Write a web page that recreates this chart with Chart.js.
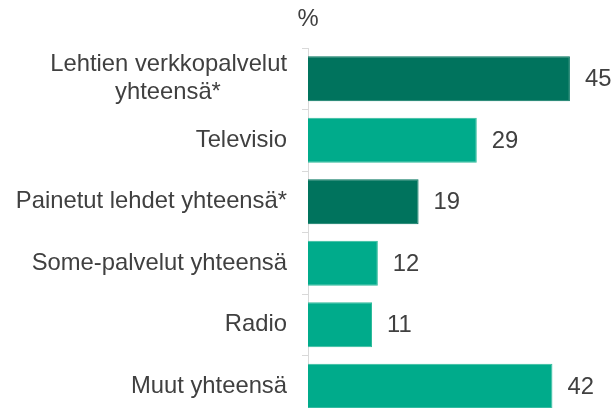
<!DOCTYPE html>
<html>
<head>
<meta charset="utf-8">
<script src="https://cdn.jsdelivr.net/npm/chart.js@4/dist/chart.umd.min.js"></script>
<style>
html,body{margin:0;padding:0;background:#fff;overflow:hidden;}
canvas{display:block;}
</style>
</head>
<body>
<canvas id="c" width="616" height="420" style="width:616px;height:420px;"></canvas>
<script>
const NBSP = '\u00A0';
const categories = [
  ['Lehtien verkkopalvelut', 'yhteensä*' + NBSP.repeat(10)],
  'Televisio',
  'Painetut lehdet yhteensä*',
  'Some-palvelut yhteensä',
  'Radio',
  'Muut yhteensä'
];
const values = [45, 29, 19, 12, 11, 42];
const unitLabel = '%';

const DARK = '#00735d';
const LIGHT = '#00ab8b';
const barColors = [DARK, LIGHT, DARK, LIGHT, LIGHT, LIGHT];
const borderColors = [DARK, '#2fbb9b', DARK, '#2fbb9b', '#2fbb9b', '#2fbb9b'];
const FONT = "'Liberation Sans', Arial, sans-serif";
const TEXT = '#404040';

const extras = {
  id: 'extras',
  afterDatasetsDraw(chart) {
    const ctx = chart.ctx;
    const meta = chart.getDatasetMeta(0);
    ctx.save();
    ctx.font = '23.8px ' + FONT;
    ctx.fillStyle = TEXT;
    ctx.textAlign = 'left';
    ctx.textBaseline = 'middle';
    meta.data.forEach((bar, i) => {
      ctx.fillText(String(values[i]), bar.x + 15, bar.y + 1);
    });
    ctx.textAlign = 'center';
    ctx.fillText(unitLabel, chart.chartArea.left, 19);
    ctx.restore();
  }
};

new Chart(document.getElementById('c'), {
  type: 'bar',
  data: {
    labels: categories,
    datasets: [{
      data: values,
      backgroundColor: barColors,
      borderColor: borderColors,
      borderWidth: 1,
      categoryPercentage: 1,
      barPercentage: 0.73
    }]
  },
  options: {
    indexAxis: 'y',
    responsive: false,
    maintainAspectRatio: false,
    animation: false,
    devicePixelRatio: 1,
    layout: { padding: { top: 48, bottom: 3, left: 0, right: 17 } },
    plugins: { legend: { display: false }, tooltip: { enabled: false } },
    scales: {
      x: { display: false, min: 0, max: 50 },
      y: {
        afterFit(scale) { scale.width = 308; scale.paddingTop = 0; scale.paddingBottom = 0; },
        grid: { display: true, drawOnChartArea: false, drawTicks: true, tickLength: 6, color: '#d9d9d9', offset: true },
        border: { display: true, color: '#d9d9d9', width: 1 },
        ticks: { color: TEXT, font: { family: FONT, size: 23.8, lineHeight: 1.17 }, padding: 15, autoSkip: false }
      }
    }
  },
  plugins: [extras]
});
</script>
</body>
</html>
